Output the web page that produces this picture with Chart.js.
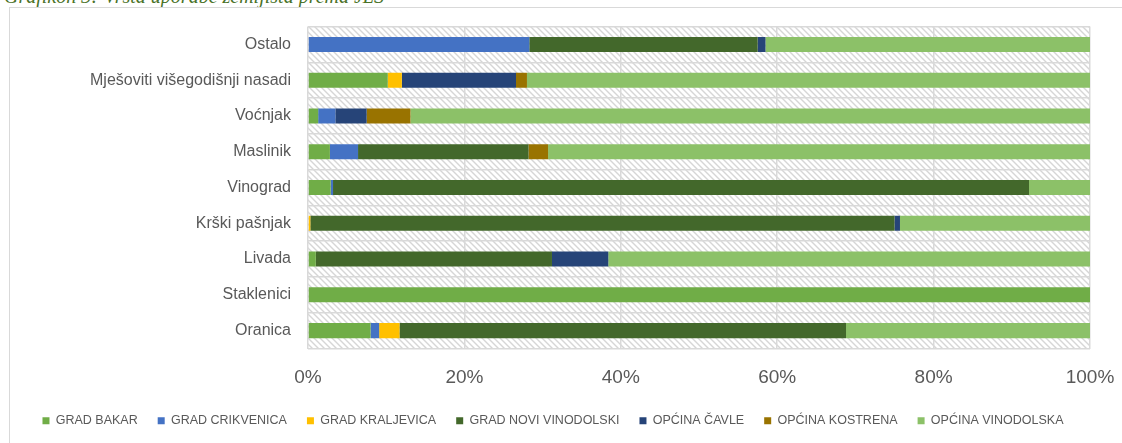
<!DOCTYPE html>
<html>
<head>
<meta charset="utf-8">
<script src="https://cdn.jsdelivr.net/npm/chart.js@4"></script>
<style>
  body { margin: 0; background: #fff; width: 1122px; height: 443px; overflow: hidden; position: relative; }
  #caption { position: absolute; left: 4px; top: -14px; font-family: "Liberation Serif", serif; font-style: italic; font-size: 20px; line-height: 20px; color: #4a7227; white-space: nowrap; }
  #caption span { display: inline-block; width: 100px; }
  #frame { position: absolute; left: 9px; top: 7px; width: 1200px; height: 500px; border-left: 1.5px solid #d9d9d9; border-top: 1.5px solid #d9d9d9; }
  #wrap { position: absolute; left: 0; top: 0; width: 1122px; height: 443px; }
</style>
</head>
<body>
<div id="caption"><span>Grafikon 3:</span>Vrsta uporabe zemljišta prema JLS</div>
<div id="frame"></div>
<div id="wrap"><canvas id="landChart"></canvas></div>
<script>
const categories = ["Ostalo", "Mješoviti višegodišnji nasadi", "Voćnjak", "Maslinik", "Vinograd", "Krški pašnjak", "Livada", "Staklenici", "Oranica"];
const xTicks = [0, 20, 40, 60, 80, 100];

const gradBakar = [0, 10.2, 1.3, 2.8, 2.9, 0, 1.0, 100, 8.0];
const gradCrikvenica = [28.3, 0, 2.2, 3.6, 0.3, 0, 0, 0, 1.1];
const gradKraljevica = [0, 1.8, 0, 0, 0, 0.3, 0, 0, 2.6];
const gradNoviVinodolski = [29.2, 0, 0, 21.8, 89.0, 74.7, 30.2, 0, 57.1];
const opcinaCavle = [1.0, 14.6, 4.0, 0, 0, 0.7, 7.2, 0, 0];
const opcinaKostrena = [0, 1.4, 5.6, 2.5, 0, 0, 0, 0, 0];
const opcinaVinodolska = [41.5, 72.0, 86.9, 69.3, 7.8, 24.3, 61.6, 0, 31.2];

const seriesNames = ["GRAD BAKAR", "GRAD CRIKVENICA", "GRAD KRALJEVICA", "GRAD NOVI VINODOLSKI", "OPĆINA ČAVLE", "OPĆINA KOSTRENA", "OPĆINA VINODOLSKA"];
const seriesValues = [gradBakar, gradCrikvenica, gradKraljevica, gradNoviVinodolski, opcinaCavle, opcinaKostrena, opcinaVinodolska];
const seriesColors = ["#70ad47", "#4472c4", "#ffc000", "#43682b", "#264478", "#997300", "#8cc168"];

function makeHatch() {
  const c = document.createElement("canvas");
  c.width = 6;
  c.height = 6;
  const g = c.getContext("2d");
  g.fillStyle = "#ffffff";
  g.fillRect(0, 0, 6, 6);
  g.strokeStyle = "#d6d6d6";
  g.lineWidth = 1.4;
  g.beginPath();
  g.moveTo(-1, -1); g.lineTo(7, 7);
  g.moveTo(-4, 2); g.lineTo(4, 10);
  g.moveTo(2, -4); g.lineTo(10, 4);
  g.stroke();
  return g.createPattern(c, "repeat");
}

const hatchBackground = {
  id: "hatchBackground",
  beforeDraw(chart) {
    const a = chart.chartArea;
    const ctx = chart.ctx;
    ctx.save();
    ctx.fillStyle = makeHatch();
    ctx.fillRect(a.left, a.top, a.right - a.left, a.bottom - a.top);
    ctx.restore();
  }
};

const datasets = seriesNames.map((name, i) => {
  return {
    label: name,
    data: seriesValues[i],
    backgroundColor: seriesColors[i],
    borderWidth: 0,
    barPercentage: 0.42,
    categoryPercentage: 1
  };
});

const config = {
  type: "bar",
  data: { labels: categories, datasets },
  options: {
    indexAxis: "y",
    responsive: false,
    animation: false,
    layout: { padding: { top: 23, right: 32, left: 16, bottom: 6 } },
    plugins: {
      tooltip: { enabled: false },
      legend: {
        position: "bottom",
        labels: {
          boxWidth: 7,
          boxHeight: 7,
          padding: 20,
          color: "#595959",
          font: { family: "Liberation Sans", size: 12.5 }
        }
      }
    },
    scales: {
      x: {
        stacked: true,
        min: 0,
        max: 100,
        afterBuildTicks: (s) => { s.ticks = xTicks.map((v) => ({ value: v })); },
        afterFit: (s) => { s.height = 46; s.paddingLeft = 0; s.paddingRight = 0; },
        border: { display: false },
        grid: { color: "#d9d9d9", lineWidth: 1.5, drawTicks: false },
        ticks: {
          padding: 18,
          color: "#595959",
          font: { family: "Liberation Sans", size: 19 },
          callback: (v) => v + "%"
        }
      },
      y: {
        stacked: true,
        afterFit: (s) => { s.width = 292; },
        border: { display: false },
        grid: { color: "#d9d9d9", lineWidth: 1.5, drawTicks: false, offset: true },
        ticks: {
          padding: 17,
          color: "#595959",
          font: { family: "Liberation Sans", size: 16 }
        }
      }
    }
  },
  plugins: [hatchBackground]
};

const canvasElement = document.getElementById("landChart");
canvasElement.width = 1122;
canvasElement.height = 443;
const myChart = new Chart(canvasElement, config);
</script>
</body>
</html>
